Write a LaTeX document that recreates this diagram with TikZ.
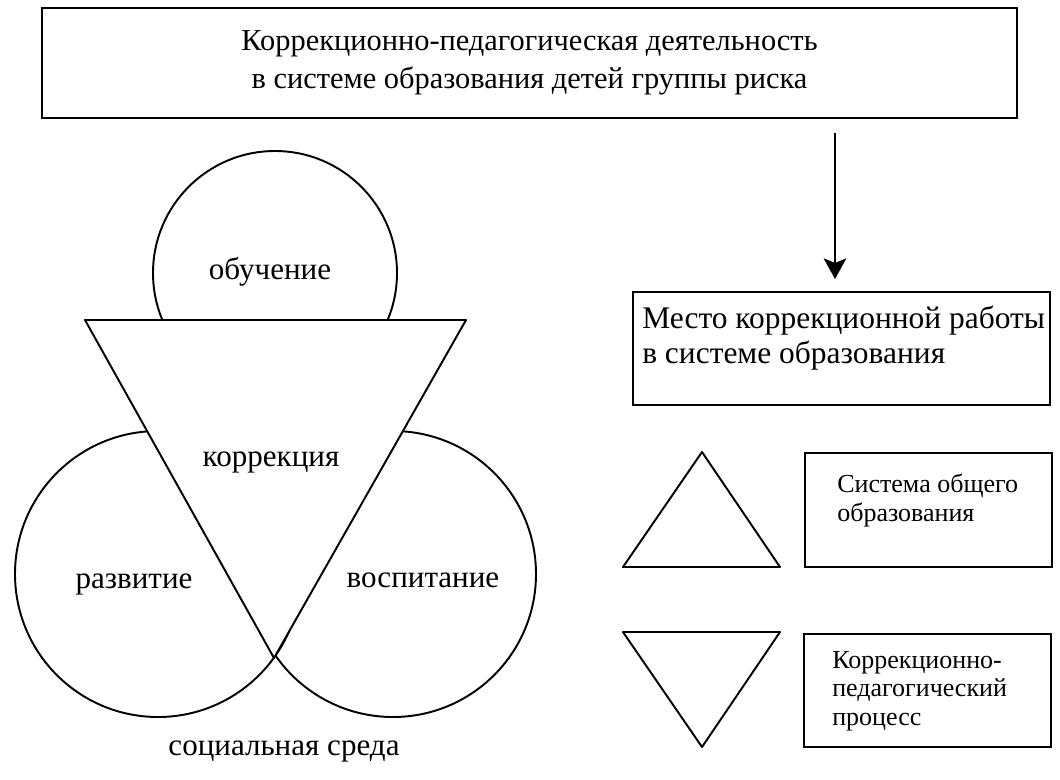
\documentclass[tikz,border=0pt]{standalone}
\usepackage{fontspec}
\setmainfont{Liberation Serif}
\usetikzlibrary{arrows.meta}
\begin{document}
\begin{tikzpicture}[x=0.75pt,y=-0.75pt,
  frame/.style={draw, line width=1.25pt, inner sep=0pt},
  figline/.style={line width=1.45pt, line join=round},
  big/.style={font=\fontsize{22.8}{28.5}\selectfont},
  mid/.style={font=\fontsize{23.6}{26.3}\selectfont},
  small/.style={font=\fontsize{19.5}{21.5}\selectfont},
  lbl/.style={font=\fontsize{23.3}{27}\selectfont, inner sep=0pt},
  txt/.style={inner sep=0pt, align=left, anchor=west},
  arrowline/.style={line width=1.45pt, -{Stealth[length=15.5pt,width=17pt,inset=3.5pt]}}]
\useasboundingbox (0,0) rectangle (1060,779);

% top box
\node[frame, big, align=center, minimum width=731.25pt, minimum height=82.5pt] (top) at (529.5,63)
  {Коррекционно-педагогическая деятельность\\в системе образования детей группы риска};

% arrow
\coordinate (a1) at (835,133);
\coordinate (a2) at (835,279);
\draw[arrowline] (a1) -- (a2);

% place of correction work
\node[frame, minimum width=312.75pt, minimum height=84.75pt] (mesto) at (841.5,348.5) {};
\node[txt, mid] (mestotext) at (642,338) {Место коррекционной работы\\в системе образования};

% legend triangles
\draw[figline] (702,452) -- (780,567) -- (623,567) -- cycle;
\draw[figline] (623,632) -- (780,632) -- (702,747) -- cycle;

% legend boxes
\node[frame, minimum width=185.25pt, minimum height=85.5pt] (sys) at (928.5,510) {};
\node[txt, small] (systext) at (837,500.5) {Система общего\\образования};
\node[frame, minimum width=185.25pt, minimum height=84.75pt] (kpp) at (927.5,690.5) {};
\node[txt, small] (kpptext) at (832,691) {Коррекционно-\\педагогический\\процесс};

% left figure
\draw[figline] (275,273) circle[radius=91.5pt];
\draw[figline] (158,574) circle[radius=107.25pt];
\draw[figline] (393,574) circle[radius=107.25pt];
\draw[figline, fill=white] (85,320) -- (466,320) -- (274,658) -- cycle;

\node[lbl, anchor=base] (ob) at (270,279) {обучение};
\node[lbl, anchor=base] (korr) at (271,466) {коррекция};
\node[lbl, anchor=base] (razv) at (134,588) {развитие};
\node[lbl, anchor=base] (vosp) at (423,587) {воспитание};
\node[lbl, anchor=base] (soc) at (284,755) {социальная среда};
\end{tikzpicture}
\end{document}
